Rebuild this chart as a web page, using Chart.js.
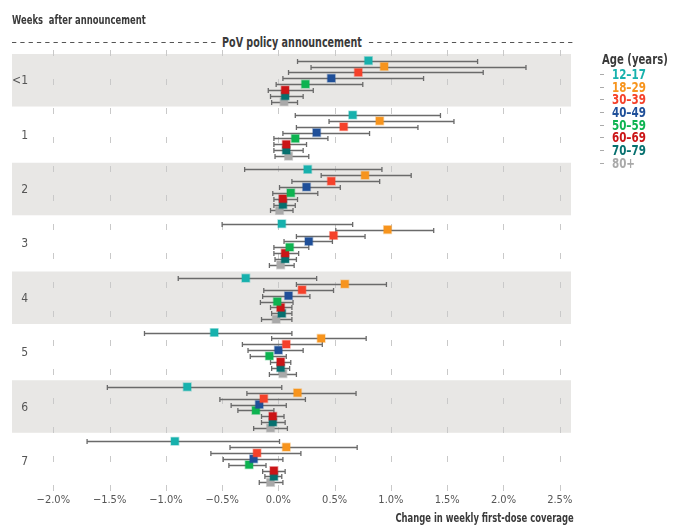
<!DOCTYPE html>
<html>
<head>
<meta charset="utf-8">
<script src="https://cdn.jsdelivr.net/npm/chart.js@4.4.1/dist/chart.umd.min.js"></script>
<style>
  html, body { margin: 0; padding: 0; background: #fff; }
  #wrap { position: relative; width: 676px; height: 532px; overflow: hidden;
    font-family: "DejaVu Sans Condensed", "Liberation Sans Narrow", "Roboto", sans-serif; }
  #c { position: absolute; left: 0; top: 0; }
  .txt { position: absolute; white-space: nowrap; line-height: 1; font-weight: bold; color: #3a3a3a; }
  #weeks { left: 12px; top: 13px; font-size: 13px; transform: scaleX(0.72); transform-origin: left center; }
  #pov { left: 191.7px; width: 200px; top: 35px; text-align: center; font-size: 14px;
         transform: scaleX(0.76); transform-origin: center center; }
  #pov span { background: #fff; padding: 0 6px; }
  #xtitle { right: 102px; top: 511px; font-size: 13px; transform: scaleX(0.72); transform-origin: right center; }
  #legend { position: absolute; left: 598px; top: 51px; white-space: nowrap; }
  #legend .title { font-size: 14px; font-weight: bold; color: #3a3a3a; margin-left: 4px; height: 17px; line-height: 17px;
                   transform: scaleX(0.8); transform-origin: left center; }
  #legend .item { position: relative; height: 12.7px; line-height: 12.7px; }
  #legend .item span { display: inline-block; font-size: 14px; font-weight: bold; margin-left: 14px;
                       transform: scaleX(0.82); transform-origin: left center; }
  #legend .item i { position: absolute; left: 2px; top: 6px; width: 4px; height: 1px; background: #aaa; }
</style>
</head>
<body>
<div id="wrap">
  <canvas id="c" width="676" height="532"></canvas>
  <div class="txt" id="weeks">Weeks&nbsp; after announcement</div>
  <div class="txt" id="pov"><span>PoV policy announcement</span></div>
  <div class="txt" id="xtitle">Change in weekly first-dose coverage</div>
  <div id="legend"></div>
</div>
<script>
// ---- data (percentage points) ----
const weeks = ['<1', '1', '2', '3', '4', '5', '6', '7'];
const ageGroups = ['12–17', '18–29', '30–39', '40–49', '50–59', '60–69', '70–79', '80+'];
const xTickValues = [-2.0, -1.5, -1.0, -0.5, 0.0, 0.5, 1.0, 1.5, 2.0, 2.5];

const est12_17 = [0.80, 0.66, 0.26, 0.03, -0.29, -0.57, -0.81, -0.92];
const lo12_17  = [0.17, 0.15, -0.30, -0.50, -0.89, -1.19, -1.52, -1.70];
const hi12_17  = [1.77, 1.44, 0.92, 0.66, 0.34, 0.12, 0.03, 0.01];

const est18_29 = [0.94, 0.90, 0.77, 0.97, 0.59, 0.38, 0.17, 0.07];
const lo18_29  = [0.29, 0.45, 0.38, 0.51, 0.16, -0.06, -0.28, -0.43];
const hi18_29  = [2.20, 1.56, 1.18, 1.38, 0.96, 0.78, 0.69, 0.70];

const est30_39 = [0.71, 0.58, 0.47, 0.49, 0.21, 0.07, -0.13, -0.19];
const lo30_39  = [0.09, 0.16, 0.12, 0.16, -0.13, -0.32, -0.52, -0.60];
const hi30_39  = [1.82, 1.24, 0.90, 0.77, 0.49, 0.39, 0.24, 0.20];

const est40_49 = [0.47, 0.34, 0.25, 0.27, 0.09, 0.00, -0.17, -0.22];
const lo40_49  = [0.04, 0.04, 0.01, 0.05, -0.14, -0.27, -0.42, -0.49];
const hi40_49  = [1.29, 0.81, 0.55, 0.48, 0.28, 0.22, 0.07, 0.04];

const est50_59 = [0.24, 0.15, 0.11, 0.10, -0.01, -0.08, -0.20, -0.26];
const lo50_59  = [-0.02, -0.04, -0.05, -0.04, -0.16, -0.25, -0.36, -0.44];
const hi50_59  = [0.75, 0.44, 0.35, 0.27, 0.13, 0.07, -0.04, -0.11];

const est60_69 = [0.06, 0.07, 0.04, 0.06, 0.02, 0.02, -0.05, -0.04];
const lo60_69  = [-0.09, -0.04, -0.04, -0.04, -0.07, -0.07, -0.15, -0.14];
const hi60_69  = [0.31, 0.25, 0.17, 0.18, 0.12, 0.11, 0.05, 0.06];

const est70_79 = [0.06, 0.07, 0.04, 0.06, 0.03, 0.02, -0.05, -0.04];
const lo70_79  = [-0.07, -0.04, -0.04, -0.03, -0.06, -0.06, -0.15, -0.12];
const hi70_79  = [0.22, 0.22, 0.15, 0.16, 0.12, 0.10, 0.06, 0.03];

const est80p = [0.05, 0.09, 0.01, 0.02, -0.02, 0.04, -0.07, -0.07];
const lo80p  = [-0.06, -0.03, -0.07, -0.08, -0.15, -0.08, -0.22, -0.17];
const hi80p  = [0.17, 0.27, 0.13, 0.14, 0.12, 0.16, 0.08, 0.04];

// ---- styles ----
const groupColors = ['#17b1ad', '#f7941d', '#f5412a', '#1f4f99', '#0db350', '#cb1517', '#06706f', '#a9a9a9'];
const groupHalo   = ['rgba(23,177,173,0.35)', 'rgba(247,148,29,0.35)', 'rgba(245,65,42,0.35)', 'rgba(31,79,153,0.35)',
                     'rgba(13,179,80,0.35)', 'rgba(203,21,23,0.35)', 'rgba(6,112,111,0.35)', 'rgba(169,169,169,0.45)'];
const FONT = '"DejaVu Sans Condensed", "Liberation Sans Narrow", "Roboto", sans-serif';
const LABEL_COL = 16; // width of the week-label column left of the plot

const estimates = [est12_17, est18_29, est30_39, est40_49, est50_59, est60_69, est70_79, est80p];
const lows  = [lo12_17, lo18_29, lo30_39, lo40_49, lo50_59, lo60_69, lo70_79, lo80p];
const highs = [hi12_17, hi18_29, hi30_39, hi40_49, hi50_59, hi60_69, hi70_79, hi80p];
const rowStep = 0.108; // vertical spread of groups within a week row (in row units)

const datasets = ageGroups.map((g, gi) => ({
  label: g,
  data: estimates[gi].map((v, wi) => ({ x: v, y: wi + (gi - 3.5) * rowStep, lo: lows[gi][wi], hi: highs[gi][wi] })),
  backgroundColor: groupColors[gi],
  borderColor: groupHalo[gi],
  borderWidth: 1.5,
  pointStyle: 'rect',
  pointRadius: 5.4,
  pointHoverRadius: 5.4
}));

// legend (HTML)
const legend = document.getElementById('legend');
legend.innerHTML = '<div class="title">Age (years)</div>' +
  ageGroups.map((g, i) => `<div class="item" style="color:${groupColors[i]}"><i></i><span>${g}</span></div>`).join('');

const backdrop = {
  id: 'backdrop',
  beforeDraw(chart) {
    const { ctx, chartArea: a, scales: { x, y } } = chart;
    const left = a.left - LABEL_COL;
    ctx.save();
    // alternating bands
    ctx.fillStyle = '#e8e7e5';
    weeks.forEach((w, i) => {
      if (i % 2 === 0) {
        const t = y.getPixelForValue(i - 0.5), b = y.getPixelForValue(i + 0.5);
        ctx.fillRect(left, t, a.right - left, (b - t) * 0.966);
      }
    });
    // dashed vertical gridlines
    ctx.strokeStyle = '#c9c9c9';
    ctx.lineWidth = 1;
    ctx.setLineDash([6, 23]);
    xTickValues.forEach(v => {
      const px = Math.round(x.getPixelForValue(v)) + 0.5;
      ctx.beginPath(); ctx.moveTo(px, a.top - 4); ctx.lineTo(px, a.bottom + 8); ctx.stroke();
    });
    // header dashed line
    ctx.strokeStyle = '#555';
    ctx.setLineDash([4.3, 4]);
    ctx.beginPath(); ctx.moveTo(left, 42.5); ctx.lineTo(a.right + 2, 42.5); ctx.stroke();
    ctx.restore();
  },
  beforeDatasetsDraw(chart) {
    const { ctx, scales: { x, y } } = chart;
    ctx.save();
    ctx.strokeStyle = '#6a6a6a';
    ctx.lineWidth = 1.3;
    chart.data.datasets.forEach(ds => {
      ds.data.forEach(p => {
        const py = Math.round(y.getPixelForValue(p.y)) + 0.5;
        const x1 = x.getPixelForValue(p.lo), x2 = x.getPixelForValue(p.hi);
        ctx.beginPath();
        ctx.moveTo(x1, py); ctx.lineTo(x2, py);
        ctx.moveTo(x1, py - 2.6); ctx.lineTo(x1, py + 2.6);
        ctx.moveTo(x2, py - 2.6); ctx.lineTo(x2, py + 2.6);
        ctx.stroke();
      });
    });
    ctx.restore();
  }
};

new Chart(document.getElementById('c'), {
  type: 'scatter',
  data: { datasets },
  options: {
    responsive: false,
    animation: false,
    events: [],
    layout: { padding: { left: 12, right: 105, top: 54, bottom: 0 } },
    plugins: { legend: { display: false }, tooltip: { enabled: false } },
    scales: {
      x: {
        type: 'linear',
        min: -2.225, max: 2.6,
        afterBuildTicks: s => { s.ticks = xTickValues.map(v => ({ value: v })); },
        afterFit: s => { s.height = 43; },
        grid: { display: false, drawTicks: false },
        border: { display: false },
        ticks: {
          padding: 5,
          color: '#555',
          font: { family: FONT, size: 11 },
          callback: v => (v < 0 ? '\u2212' : '') + Math.abs(v).toFixed(1) + '%'
        }
      },
      y: {
        type: 'linear',
        position: 'left',
        min: -0.5, max: 7.5,
        reverse: true,
        afterBuildTicks: s => { s.ticks = weeks.map((w, i) => ({ value: i })); },
        afterFit: s => { s.width = LABEL_COL; },
        grid: { display: false, drawTicks: false },
        border: { display: false },
        ticks: {
          padding: 0,
          color: '#555',
          font: { family: FONT, size: 12 },
          callback: v => weeks[v]
        }
      }
    }
  },
  plugins: [backdrop]
});
</script>
</body>
</html>
